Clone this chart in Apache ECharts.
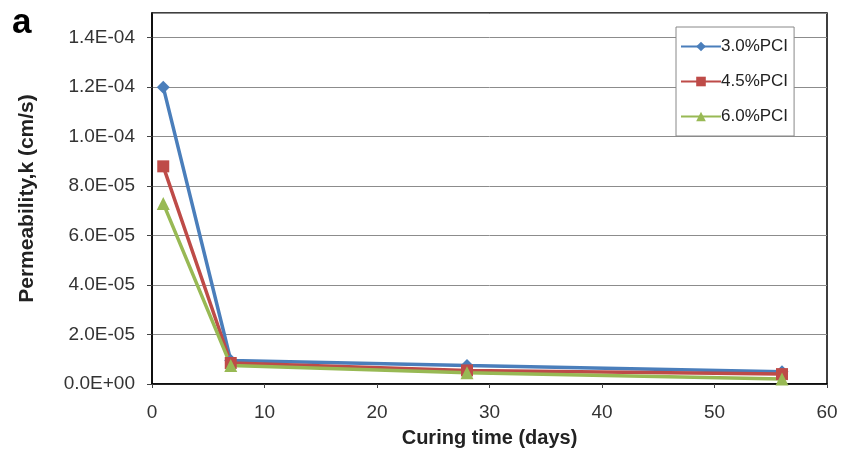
<!DOCTYPE html>
<html>
<head>
    <meta charset="utf-8">
    <title>Permeability vs curing time</title>
    <script src="https://cdn.jsdelivr.net/npm/echarts@6/dist/echarts.min.js"></script>
    <style>
        html, body { margin: 0; padding: 0; background: #fff; }
        #container { width: 845px; height: 460px; }
    </style>
</head>
<body>
<div id="container"></div>
<script>
    // curing time (days)
    var days = [1, 7, 28, 56];
    // permeability k (cm/s) per PCI content
    var pci30 = [1.20e-4, 9.5e-6, 7.5e-6, 5.0e-6];
    var pci45 = [8.8e-5, 8.5e-6, 5.5e-6, 4.0e-6];
    var pci60 = [7.3e-5, 7.5e-6, 4.5e-6, 2.0e-6];
    var seriesNames = ['3.0%PCI', '4.5%PCI', '6.0%PCI'];

    function pairs(ys) {
        return days.map(function (d, i) { return [d, ys[i]]; });
    }

    // 1.4e-4 -> "1.4E-04"
    function sci(v) {
        var s = Number(v).toExponential(1);
        var parts = s.split('e');
        var exp = parseInt(parts[1], 10);
        var sign = exp < 0 ? '-' : '+';
        var a = Math.abs(exp);
        return parts[0] + 'E' + sign + (a < 10 ? '0' + a : a);
    }

    var font = '"Liberation Sans", Arial, sans-serif';
    var myChart = echarts.init(document.getElementById('container'));

    function lineSeries(name, ys, color, symbol, size) {
        return {
            name: name,
            type: 'line',
            data: pairs(ys),
            symbol: symbol,
            symbolSize: size,
            lineStyle: { color: color, width: 3.5 },
            itemStyle: { color: color },
            emphasis: { disabled: true }
        };
    }

    var option = {
        animation: false,
        textStyle: { fontFamily: font },
        graphic: [{
            type: 'text',
            left: 12,
            top: 6,
            style: { text: 'a', fontSize: 35, fontWeight: 'bold', fill: '#000', fontFamily: font }
        }],
        grid: {
            left: 152, right: 18, top: 13, bottom: 76,
            show: true, borderColor: '#000', borderWidth: 1.5
        },
        legend: {
            orient: 'vertical',
            left: 676,
            top: 27,
            data: seriesNames,
            backgroundColor: '#fff',
            borderColor: '#888',
            borderWidth: 1,
            padding: [11, 6, 11, 4],
            itemGap: 18,
            itemWidth: 40,
            itemHeight: 12,
            textStyle: { fontSize: 17, color: '#222', fontFamily: font, padding: [0, 0, 0, -5] }
        },
        xAxis: {
            type: 'value',
            min: 0, max: 60, interval: 10,
            name: 'Curing time (days)',
            nameLocation: 'middle',
            nameGap: 44,
            nameTextStyle: { fontSize: 20, fontWeight: 'bold', color: '#222', fontFamily: font },
            axisLine: { lineStyle: { color: '#000', width: 1.5 } },
            axisTick: { show: true, length: 4, lineStyle: { color: '#444' } },
            axisLabel: { fontSize: 19, color: '#333', margin: 19, fontFamily: font },
            splitLine: { show: false }
        },
        yAxis: {
            type: 'value',
            min: 0, max: 1.5e-4, interval: 2e-5,
            name: 'Permeability,k (cm/s)',
            nameLocation: 'middle',
            nameGap: 114,
            nameRotate: 90,
            nameTextStyle: { fontSize: 21, fontWeight: 'bold', color: '#222', fontFamily: font },
            axisLine: { show: true, lineStyle: { color: '#000', width: 1.5 } },
            axisTick: { show: true, length: 5, lineStyle: { color: '#444' } },
            axisLabel: {
                fontSize: 19, color: '#333', margin: 17, showMaxLabel: false,
                fontFamily: font,
                formatter: function (v) { return v > 1.45e-4 ? '' : sci(v); }
            },
            splitLine: { show: true, lineStyle: { color: '#8c8c8c', width: 1 } }
        },
        series: [
            lineSeries(seriesNames[0], pci30, '#4a7ebb', 'diamond', 13),
            lineSeries(seriesNames[1], pci45, '#be4b48', 'rect', 12),
            lineSeries(seriesNames[2], pci60, '#98b954', 'triangle', 13)
        ]
    };
    myChart.setOption(option, true);
</script>
</body>
</html>
